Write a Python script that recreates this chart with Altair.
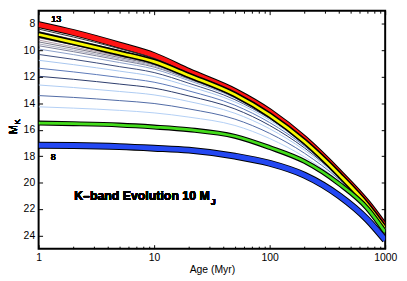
import altair as alt
import pandas as pd

# ---------------- data ----------------
ages = [1, 2, 5, 10, 20, 50, 100, 200, 400, 700, 1000]

curve_13 = [8.05, 8.65, 9.6, 10.4, 11.6, 13.1, 14.65, 16.7, 19.25, 21.55, 23.35]
upper_1 = [8.39, 8.99, 9.87, 10.6, 11.74, 13.21, 14.76, 16.79, 19.32, 21.62, 23.41]
upper_2 = [8.58, 9.18, 10.02, 10.72, 11.81, 13.28, 14.83, 16.84, 19.36, 21.66, 23.45]
yellow = [8.8, 9.4, 10.2, 10.85, 11.9, 13.35, 14.9, 16.9, 19.4, 21.7, 23.5]
green = [15.5, 15.55, 15.65, 15.8, 16.0, 16.5, 17.35, 18.4, 20.1, 21.95, 23.75]
curve_8 = [17.18, 17.2, 17.28, 17.4, 17.55, 18.0, 18.54, 19.44, 21.0, 22.8, 24.35]

thin_a = [9.05, 9.59, 10.34, 10.95, 11.96, 13.38, 14.92, 16.91, 19.40, 21.70, 23.50]
thin_b = [9.22, 9.74, 10.45, 11.03, 12.01, 13.41, 14.94, 16.92, 19.41, 21.70, 23.50]
thin_c = [9.36, 9.85, 10.54, 11.10, 12.06, 13.45, 14.96, 16.93, 19.41, 21.70, 23.50]
thin_d = [9.51, 9.98, 10.64, 11.19, 12.12, 13.48, 14.98, 16.94, 19.42, 21.70, 23.50]
thin_e = [9.65, 10.10, 10.74, 11.27, 12.18, 13.52, 15.01, 16.96, 19.42, 21.71, 23.51]
thin_f = [9.90, 10.32, 10.92, 11.42, 12.29, 13.60, 15.06, 16.99, 19.43, 21.71, 23.51]
thin_g = [10.31, 10.68, 11.23, 11.68, 12.49, 13.73, 15.16, 17.05, 19.46, 21.72, 23.52]
thin_h = [10.75, 11.08, 11.57, 11.98, 12.72, 13.90, 15.28, 17.12, 19.49, 21.73, 23.53]
thin_i = [11.35, 11.63, 12.05, 12.41, 13.07, 14.15, 15.46, 17.24, 19.54, 21.74, 23.54]
thin_j = [11.96, 12.19, 12.55, 12.86, 13.45, 14.43, 15.68, 17.38, 19.60, 21.76, 23.56]
thin_k = [12.62, 12.81, 13.11, 13.37, 13.87, 14.76, 15.93, 17.55, 19.67, 21.79, 23.59]
thin_l = [13.42, 13.56, 13.80, 14.02, 14.43, 15.20, 16.28, 17.78, 19.77, 21.83, 23.63]
thin_m = [14.27, 14.37, 14.54, 14.73, 15.05, 15.68, 16.67, 18.06, 19.90, 21.87, 23.67]

thin_names = ["u1", "u2", "a", "b", "c", "d", "e", "f", "g", "h", "i", "j", "k", "l", "m"]
thin_values = [upper_1, upper_2, thin_a, thin_b, thin_c, thin_d, thin_e, thin_f,
               thin_g, thin_h, thin_i, thin_j, thin_k, thin_l, thin_m]
thin_colors = ["#333333", "#5e5e5e", "#6a6a6a", "#b09aa6", "#7a7a88", "#a8a8bc",
               "#7c8098", "#8b9fc9", "#3a4a7a", "#a8c6ef", "#5a78b8", "#2b3b6b",
               "#aecbf2", "#4f6aa5", "#b3cff5"]

x_major = [1, 10, 100, 1000]
x_minor = [2, 3, 4, 5, 6, 7, 8, 9, 20, 30, 40, 50, 60, 70, 80, 90,
           200, 300, 400, 500, 600, 700, 800, 900]
y_ticks = [8, 10, 12, 14, 16, 18, 20, 22, 24]

# ---------------- tables ----------------
def one(vals):
    return pd.DataFrame({"age": ages, "mk": vals})

thin_df = pd.concat(
    [pd.DataFrame({"age": ages, "mk": v, "series": n, "order": i})
     for i, (n, v) in enumerate(zip(thin_names, thin_values))],
    ignore_index=True)

FONT = "Liberation Sans"
xs = alt.Scale(type="log", domain=[1, 1000], nice=False)
ys = alt.Scale(domain=[7, 25], reverse=True, nice=False, zero=False)


def X(axis=None):
    return alt.X("age:Q", scale=xs, axis=axis)


def Y(axis=None):
    return alt.Y("mk:Q", scale=ys, axis=axis)


def XD(v):
    return alt.XDatum(datum=v, scale=xs, axis=None)


def YD(v):
    return alt.YDatum(datum=v, scale=ys, axis=None)


def line(vals, color, width):
    return alt.Chart(one(vals)).mark_line(
        color=color, strokeWidth=width, clip=True, interpolate="monotone"
    ).encode(x=X(), y=Y())


red_o = line(curve_13, "black", 7)
red_l = line(curve_13, "#ff1414", 5)

thin = alt.Chart(thin_df).mark_line(strokeWidth=1, clip=True, interpolate="monotone").encode(
    x=X(), y=Y(),
    color=alt.Color("series:N", scale=alt.Scale(domain=thin_names, range=thin_colors), legend=None),
    order="order:Q",
)

yel_o = line(yellow, "black", 6)
yel_l = line(yellow, "#f8f800", 2.8)
grn_o = line(green, "black", 5)
grn_l = line(green, "#44dd1c", 2.8)
blu_o = line(curve_8, "black", 7)
blu_l = line(curve_8, "#2448f2", 5)

# ---------------- axes (inward ticks, frame mirrored) ----------------
axis_base = one(yellow)
common = dict(domain=False, grid=False, tickColor="black", tickWidth=1,
              labelFont=FONT, labelFontSize=10.5, labelColor="black",
              titleFont=FONT, titleFontWeight="normal", titleColor="black")

bottom_major = alt.Chart(axis_base).mark_point(opacity=0).encode(
    x=X(alt.Axis(orient="bottom", values=x_major, format="d", labelFlush=False,
                 labelOverlap=False, tickSize=4, offset=-4, labelPadding=4,
                 title="Age (Myr)", titleFontSize=10.5, titlePadding=2, **common)),
    y=Y())
bottom_minor = alt.Chart(axis_base).mark_point(opacity=0).encode(
    x=X(alt.Axis(orient="bottom", values=x_minor, labels=False, tickSize=2.5,
                 offset=-2.5, title=None, **common)),
    y=Y())
top_major = alt.Chart(axis_base).mark_point(opacity=0).encode(
    x=X(alt.Axis(orient="top", values=x_major, labels=False, tickSize=4,
                 offset=-4, title=None, **common)),
    y=Y())
top_minor = alt.Chart(axis_base).mark_point(opacity=0).encode(
    x=X(alt.Axis(orient="top", values=x_minor, labels=False, tickSize=2.5,
                 offset=-2.5, title=None, **common)),
    y=Y())
left_ax = alt.Chart(axis_base).mark_point(opacity=0).encode(
    x=X(),
    y=Y(alt.Axis(orient="left", values=y_ticks, tickSize=4, offset=-4,
                 labelPadding=4, title=None, **common)))
right_ax = alt.Chart(axis_base).mark_point(opacity=0).encode(
    x=X(),
    y=Y(alt.Axis(orient="right", values=y_ticks, labels=False, tickSize=4,
                 offset=-4, title=None, **common)))

# ---------------- texts ----------------
m_title = alt.Chart(axis_base).mark_text(
    text="M", font=FONT, fontSize=11, angle=270, align="center", baseline="middle",
    color="black"
).encode(x=alt.value(-24.5), y=alt.value(120.5))
k_sub = alt.Chart(axis_base).mark_text(
    text="K", font=FONT, fontSize=8, angle=270, align="center", baseline="middle",
    color="black"
).encode(x=alt.value(-21), y=alt.value(112.5))

title_txt = alt.Chart(axis_base).mark_text(
    text="K\u2013band Evolution 10 M", font=FONT, fontSize=12.5, fontWeight="bold",
    align="left", baseline="middle", color="black"
).encode(x=XD(2.03), y=YD(21.0))
j_sub = alt.Chart(axis_base).mark_text(
    text="J", font=FONT, fontSize=9, fontWeight="bold", align="left", baseline="middle",
    color="black"
).encode(x=XD(30.9), y=YD(21.48))
lab13 = alt.Chart(axis_base).mark_text(
    text="13", font=FONT, fontSize=9, align="center", baseline="middle", color="black"
).encode(x=XD(1.42), y=YD(7.66))
lab8 = alt.Chart(axis_base).mark_text(
    text="8", font=FONT, fontSize=9, align="center", baseline="middle", color="black"
).encode(x=XD(1.34), y=YD(18.1))

chart = alt.layer(
    red_o, red_l, thin, yel_o, yel_l, grn_o, grn_l, blu_o, blu_l,
    bottom_major, bottom_minor, top_major, top_minor, left_ax, right_ax,
    m_title, k_sub, title_txt, j_sub, lab13, lab8,
).resolve_axis(x="independent", y="independent").properties(
    width=351, height=241,
    autosize=alt.AutoSizeParams(type="none"),
    padding={"left": 31, "top": 1, "right": 14, "bottom": 28},
    background="white",
).configure_view(stroke="black", strokeWidth=2)

chart.save("out.html", embed_options={"renderer": "svg", "actions": False})
